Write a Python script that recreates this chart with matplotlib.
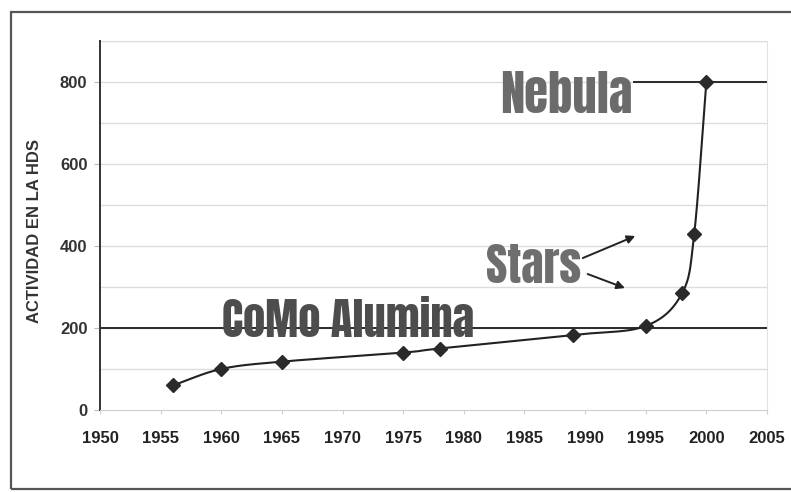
import numpy as np
import matplotlib
matplotlib.use("Agg")
import matplotlib.pyplot as plt
from matplotlib.patches import Rectangle

# Catalyst activity in hydrodesulfurisation over time
years = [1956, 1960, 1965, 1975, 1978, 1989, 1995, 1998, 1999, 2000]
activity = [60, 100, 118, 140, 150, 183, 205, 285, 430, 800]

x_ticks = list(range(1950, 2006, 5))
y_ticks = [0, 200, 400, 600, 800]
y_label = "ACTIVIDAD EN LA HDS"
label_como = "CoMo Alumina"
label_nebula = "Nebula"
label_stars = "Stars"
como_level = 200
nebula_level = 800

W, H = 791, 492
fig = plt.figure(figsize=(W / 100, H / 100), dpi=100)
fig.patch.set_facecolor("white")

# outer frame
fig.add_artist(Rectangle((11 / W, 1 - 489 / H), (W + 20 - 11) / W, (489 - 12) / H,
                         transform=fig.transFigure, fill=False, edgecolor="#555555",
                         lw=1.6, zorder=0))

ax = fig.add_axes([100 / W, 1 - 410 / H, 667 / W, 369 / H])
ax.set_xlim(1950, 2005)
ax.set_ylim(0, 900)

# light grid every 100
for v in range(100, 901, 100):
    ax.axhline(v, color="#dcdcdc", lw=1.0, zorder=1)

ax.spines["top"].set_visible(False)
ax.spines["right"].set_color("#e2e2e2")
ax.spines["bottom"].set_color("#cfcfcf")
ax.spines["left"].set_color("#333333")
ax.spines["left"].set_linewidth(1.4)

tick_font = ["Liberation Sans", "DejaVu Sans"]
ax.set_xticks(x_ticks)
ax.set_yticks(y_ticks)
ax.tick_params(axis="x", length=3, color="#d0d0d0", pad=12, labelsize=12, labelcolor="#222222")
ax.tick_params(axis="y", length=4, color="#bbbbbb", pad=5, labelsize=12, labelcolor="#333333")
for t in ax.get_xticklabels() + ax.get_yticklabels():
    t.set_fontweight("bold")
    t.set_fontfamily(tick_font)

ax.set_ylabel(y_label, fontsize=12, fontweight="bold", color="#333333",
              fontfamily=tick_font)
ax.yaxis.set_label_coords(-58 / 667, 0.485)

# reference levels
ax.axhline(como_level, color="#2a2a2a", lw=1.4, zorder=2)
ax.plot([1994.0, 2005], [nebula_level, nebula_level], color="#2a2a2a", lw=1.4, zorder=2)

# smoothed curve through the measurements (Bezier with Catmull-Rom handles, screen proportions)
sx, sy = 12.13, 0.41
P = np.column_stack([np.array(years) * sx, np.array(activity) * sy])
Pp = np.vstack([P[0] - (P[1] - P[0]), P, P[-1] + (P[-1] - P[-2])])
pts = []
t = np.linspace(0, 1, 40)
for i in range(1, len(Pp) - 2):
    p0, p1, p2, p3 = Pp[i - 1], Pp[i], Pp[i + 1], Pp[i + 2]
    c1 = p1 + (p2 - p0) / 6
    c2 = p2 - (p3 - p1) / 6
    seg = ((1 - t) ** 3)[:, None] * p1 + (3 * (1 - t) ** 2 * t)[:, None] * c1 \
        + (3 * (1 - t) * t ** 2)[:, None] * c2 + (t ** 3)[:, None] * p2
    pts.append(seg)
curve = np.vstack(pts)
ax.plot(curve[:, 0] / sx, curve[:, 1] / sy, color="#222222", lw=1.5, zorder=3)
ax.plot(years, activity, ls="none", marker="D", ms=7, color="#2a2a2a", zorder=4)

# labels in a heavy condensed face
big = dict(fontfamily=["Anton", "Oswald", "Barlow Condensed", "Liberation Sans"],
           va="baseline", zorder=5)
ax.text(1960.1, 178, label_como, ha="left", fontsize=32, color="#4d4d4d", **big)
ax.text(1993.9, 724, label_nebula, ha="right", fontsize=35, color="#6b6b6b", **big)
ax.text(1981.8, 310, label_stars, ha="left", fontsize=33, color="#6e6e6e", **big)

arrow = dict(arrowstyle="-|>", color="#222222", lw=1.4, mutation_scale=12)
ax.annotate("", xy=(1994.35, 427), xytext=(1989.6, 368), arrowprops=arrow, zorder=5)
ax.annotate("", xy=(1993.5, 295), xytext=(1990.0, 334), arrowprops=arrow, zorder=5)

fig.savefig("out.png", dpi=100, facecolor="white")
